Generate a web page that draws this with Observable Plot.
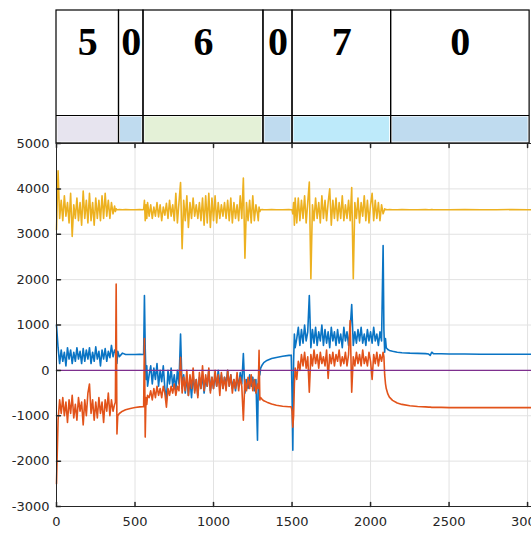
<!DOCTYPE html>
<html><head><meta charset="utf-8">
<script src="https://cdn.jsdelivr.net/npm/d3@7"></script>
<script src="https://cdn.jsdelivr.net/npm/@observablehq/plot@0.6"></script>
<style>body{margin:0;background:#fff}</style>
</head><body><div id="chart"></div>
<script>
// Header segments (state labels)
const segStart = [0, 398, 554, 1318, 1503, 2131];
const segEnd   = [398, 554, 1318, 1503, 2131, 3013];
const segLabel = ["5", "0", "6", "0", "7", "0"];
const segColor = ["#e7e4ef", "#bfdbef", "#e4f1d7", "#bfdbef", "#bdeafa", "#bfdbef"];

// Sample times
const t = [
 0,10,20,30,40,50,60,70,80,90,100,110,120,130,140,150,160,170,180,190,200,210,220,230,240,250,260,270,280,290,300,310,320,330,340,350,360,370,
 375,380,385,390,400,420,440,470,500,530,550,
 555,560,565,570,575,580,
 590,600,610,620,630,640,650,660,670,680,690,700,710,720,730,740,750,760,770,780,790,800,810,820,830,840,850,860,870,880,890,900,910,920,930,940,950,960,970,980,990,1000,1010,1020,1030,1040,1050,1060,1070,1080,1090,1100,1110,1120,1130,1140,1150,1160,1170,1180,1190,1200,1210,1220,1230,1240,1250,1260,1270,1280,
 1285,1290,1295,1300,1310,1320,1340,1370,1400,1440,1480,1495,
 1500,1505,1510,1515,1520,
 1530,1540,1550,1560,1570,1580,1590,1600,1610,1620,1630,1640,1650,1660,1670,1680,1690,1700,1710,1720,1730,1740,1750,1760,1770,1780,1790,1800,1810,1820,1830,1840,1850,1860,1870,1880,1890,1900,1910,1920,1930,1940,1950,1960,1970,1980,1990,2000,2010,2020,2030,2040,2050,2060,2070,2080,
 2085,2090,2095,2100,2110,2120,2140,2170,2200,2250,2300,2350,2370,2380,2390,2400,2450,2500,2600,2700,2800,2900,3000,3025
];

const yellow = [
 3100,4400,3350,3750,3300,3850,3400,3700,3250,3900,
 2950,3650,3350,3800,3300,3700,3200,3950,3350,3750,
 3250,3900,3300,3700,3200,3800,3350,3750,3300,3850,
 3350,3900,3400,3750,3350,3700,3450,3620,
 3500,3560,3540,3540,3545,3540,3545,3540,3540,3545,3540,
 3550,3750,3300,3650,3350,3700,
 3400,3650,3350,3600,3400,3700,3380,3650,3300,3600,
 3420,3680,3350,3750,3400,3650,3300,3900,3250,3700,
 4140,2680,3750,3300,3850,3150,3700,3350,3800,3400,
 3650,3350,3700,3300,3800,3200,3850,3250,3900,3150,
 3800,3300,3850,3250,3700,3350,3650,3400,3700,3350,
 3750,3300,3800,3250,3700,3350,3650,3300,3850,3350,
 4240,2470,3700,3300,3750,3250,3850,3300,3650,3450,
 3300,3600,3500,3540,3545,3540,3540,3545,3540,3540,3545,3540,
 3540,3450,3700,3200,3800,
 3250,3800,3300,3750,3350,3850,3250,3700,4150,2020,
 3650,3300,3800,3350,3700,3250,3850,3350,3750,3300,
 3700,4000,3200,3750,3350,3800,3300,3700,3350,3850,
 3300,3650,3350,3750,3300,4030,2020,3700,3350,3800,
 3250,3700,3400,3850,3300,3750,3250,3650,3900,3300,
 3750,3350,3700,3300,3650,3450,
 3500,3560,3540,3545,3540,3545,3540,3540,3545,3540,
 3540,3545,3540,3540,3545,3540,3540,3540,3545,3540,
 3540,3545,3540,3540
];

const blue = [
 1000,500,150,450,200,400,100,500,250,450,
 150,400,200,500,250,420,150,480,200,450,
 250,500,150,400,200,520,250,420,100,450,
 250,480,200,420,280,550,300,450,
 400,450,150,420,300,380,350,350,350,355,350,
 350,1650,500,-200,100,-350,
 -100,100,-300,50,-200,150,-350,0,-250,100,
 -400,-650,0,-300,50,-350,-100,-450,0,-300,
 800,-400,-100,-500,-150,-550,-200,-600,-100,-450,
 -200,-550,-150,-400,-100,-500,-200,-350,0,-450,
 -150,-400,-100,-350,0,-300,-100,-400,-150,-300,
 0,-350,-100,-400,-200,-450,-150,-350,-50,-300,
 370,-500,-200,-400,-100,-350,-150,-450,-200,-1540,
 -300,0,-100,50,120,170,220,260,285,310,330,335,
 -500,-1760,200,800,500,
 700,950,550,900,600,1000,650,850,1650,500,
 900,600,950,550,850,650,1000,550,900,600,
 850,500,950,650,850,550,900,600,800,500,
 950,650,850,550,900,1450,550,850,600,900,
 650,950,600,800,550,900,650,850,600,950,
 650,800,550,850,650,2750,
 900,400,700,500,460,440,420,400,390,380,
 375,370,360,330,400,370,365,360,360,355,
 355,355,355,355
];

const orange = [
 -2500,-1100,-650,-950,-600,-1000,-700,-1150,-650,-950,
 -550,-1050,-750,-1100,-600,-900,-700,-1200,-650,-1000,
 -500,-300,-950,-650,-1100,-700,-1050,-600,-950,-700,
 -1150,-650,-900,-500,-1000,-650,-900,-750,
 -700,1900,-1400,-1000,-950,-900,-870,-840,-820,-805,-800,
 -800,700,-1470,-600,-750,-550,
 -600,-450,-650,-400,-600,-350,-550,-400,-600,-350,
 -500,-810,-400,-550,-350,-500,-300,-550,-350,-450,
 290,-500,-150,-450,0,-550,-100,-400,50,-500,
 -200,-600,-50,-400,100,-450,-100,-350,50,-500,
 -150,-400,0,-350,-100,-550,-50,-400,-150,-450,
 0,-350,-100,-500,-200,-400,-50,-450,-150,-350,
 -1100,-200,-450,-150,-400,-100,-450,-200,-500,-300,
 -400,440,-650,-600,-640,-670,-700,-740,-770,-790,-800,-800,
 -900,-1250,-1000,-300,50,
 -200,200,0,350,100,400,50,300,-480,350,
 100,450,150,350,50,400,150,300,100,450,
 -180,350,150,400,100,350,200,450,100,300,
 150,400,100,350,1100,-480,300,100,400,150,
 350,100,450,150,300,100,400,200,-200,350,
 150,400,100,350,200,400,
 300,-100,-290,-400,-520,-590,-660,-720,-750,-780,
 -795,-805,-810,-810,-815,-815,-815,-820,-820,-820,
 -820,-820,-820,-820
];

const xTicks = [0, 500, 1000, 1500, 2000, 2500, 3000];
const yTicks = [-3000, -2000, -1000, 0, 1000, 2000, 3000, 4000, 5000];

const W = 531, H = 534, mL = 56, mT = 143, mB = 28;
const xDomain = [0, 3025], yDomain = [-3000, 5000];
const ys = Plot.scale({y: {domain: yDomain, range: [H - mB, mT]}});
const boxTop = ys.invert(10), bandTop = ys.invert(115), labelY = ys.invert(42);

const segs = segLabel.map((l, i) => ({x1: segStart[i], x2: segEnd[i], xm: (segStart[i] + segEnd[i]) / 2, label: l, color: segColor[i]}));
const mk = arr => t.slice(0, Math.min(t.length, arr.length)).map((tt, i) => ({t: tt, v: arr[i]}));
const tickShape = {draw(ctx, l) { ctx.moveTo(0, 0); ctx.lineTo(0, -l); }};
const ink = "#262626", gridC = "#e2e2e2";

const chart = Plot.plot({
  width: W, height: H, marginLeft: mL, marginRight: 0, marginTop: mT, marginBottom: mB,
  style: {fontFamily: "DejaVu Sans", fontSize: "13px", color: ink, background: "#fff"},
  x: {domain: xDomain},
  y: {domain: yDomain},
  color: {type: "identity"},
  marks: [
    Plot.gridX(xTicks, {stroke: gridC, strokeOpacity: 1}),
    Plot.gridY(yTicks, {stroke: gridC, strokeOpacity: 1}),
    // header
    Plot.rect(segs, {x1: "x1", x2: "x2", y1: yDomain[1], y2: bandTop, fill: "color", inset: 1.5}),
    Plot.rect(segs, {x1: "x1", x2: "x2", y1: yDomain[1], y2: boxTop, fill: "none", stroke: "#000", strokeWidth: 1.2}),
    Plot.ruleY([bandTop], {x1: segStart[0], x2: segEnd[segEnd.length - 1], stroke: "#000", strokeWidth: 1}),
    Plot.text(segs, {x: "xm", y: labelY, text: "label", fontFamily: "Liberation Serif", fontWeight: "bold", fontSize: 40, fill: "#000"}),
    // series
    Plot.line(mk(yellow), {x: "t", y: "v", stroke: "#edb120", strokeWidth: 1.6}),
    Plot.line(mk(blue), {x: "t", y: "v", stroke: "#0a74c4", strokeWidth: 1.6}),
    Plot.line(mk(orange), {x: "t", y: "v", stroke: "#e2531a", strokeWidth: 1.6}),
    Plot.ruleY([0], {stroke: "#7e2f8e", strokeWidth: 1.2}),
    // frame
    Plot.ruleX([xDomain[0]], {stroke: ink}),
    Plot.ruleY([yDomain[0]], {stroke: ink}),
    Plot.ruleY([yDomain[1]], {stroke: ink}),
    // inner ticks
    Plot.vector(xTicks, {x: d => d, y: yDomain[0], length: 4, rotate: 0, anchor: "start", shape: tickShape, stroke: ink}),
    Plot.vector(xTicks, {x: d => d, y: yDomain[1], length: 4, rotate: 180, anchor: "start", shape: tickShape, stroke: ink}),
    Plot.vector(yTicks, {x: xDomain[0], y: d => d, length: 4, rotate: 90, anchor: "start", shape: tickShape, stroke: ink}),
    // axes labels
    Plot.axisX(xTicks, {tickSize: 0, tickPadding: 10, tickFormat: d => `${d}`, label: null, fill: ink}),
    Plot.axisY(yTicks, {tickSize: 0, tickPadding: 7, tickFormat: d => `${d}`, label: null, fill: ink})
  ]
});
document.getElementById("chart").appendChild(chart);
</script>
</body></html>
